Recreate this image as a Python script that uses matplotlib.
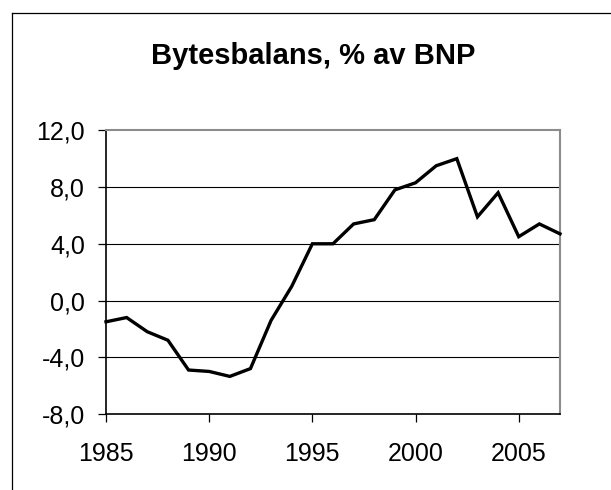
import matplotlib
matplotlib.use("Agg")
import matplotlib.pyplot as plt
from matplotlib.ticker import FuncFormatter, FixedLocator
from matplotlib.lines import Line2D

years = list(range(1985, 2008))
values = [-1.5, -1.2, -2.2, -2.8, -4.9, -5.0, -5.35, -4.8, -1.4, 1.0,
          4.0, 4.0, 5.4, 5.7, 7.8, 8.3, 9.5, 10.0, 5.9, 7.6, 4.5, 5.4, 4.7]
x_ticks = [1985, 1990, 1995, 2000, 2005]
y_ticks = [-8, -4, 0, 4, 8, 12]
title = "Bytesbalans, % av BNP"

plt.rcParams['font.family'] = ['Liberation Sans', 'DejaVu Sans']

W, H = 611, 490
fig = plt.figure(figsize=(W / 100, H / 100), dpi=100)
ax = fig.add_axes([106 / W, 1 - 414 / H, (560 - 106) / W, (414 - 130.3) / H])

ax.plot(years, values, color='black', lw=2.4, clip_on=False, zorder=5,
        solid_joinstyle='miter')

ax.set_xlim(1985, 2007)
ax.set_ylim(-8, 12)
ax.xaxis.set_major_locator(FixedLocator(x_ticks))
ax.yaxis.set_major_locator(FixedLocator(y_ticks))
ax.yaxis.set_major_formatter(FuncFormatter(lambda v, p: f"{v:.1f}".replace('.', ',')))

for g in y_ticks[1:-1]:
    ax.axhline(g, color='black', lw=0.8, zorder=1)

for s in ['top', 'right']:
    ax.spines[s].set_color('#8c8c8c')
    ax.spines[s].set_linewidth(1.5)
for s in ['left', 'bottom']:
    ax.spines[s].set_color('black')
    ax.spines[s].set_linewidth(1.2)

ax.tick_params(axis='y', direction='out', length=6, width=0.9, pad=9,
               labelsize=18, colors='black')
ax.tick_params(axis='x', direction='out', length=6, width=0.9, pad=14,
               labelsize=18, colors='black')

fig.text(313 / W, 1 - 56 / H, title, ha='center', va='center',
         fontsize=21, fontweight='bold')

# chart frame lines (top and left)
fig.add_artist(Line2D([12 / W, 1], [1 - 13 / H, 1 - 13 / H], color='black', lw=0.9,
                      transform=fig.transFigure))
fig.add_artist(Line2D([12 / W, 12 / W], [0, 1 - 13 / H], color='black', lw=0.9,
                      transform=fig.transFigure))

fig.savefig('out.png', dpi=100)
